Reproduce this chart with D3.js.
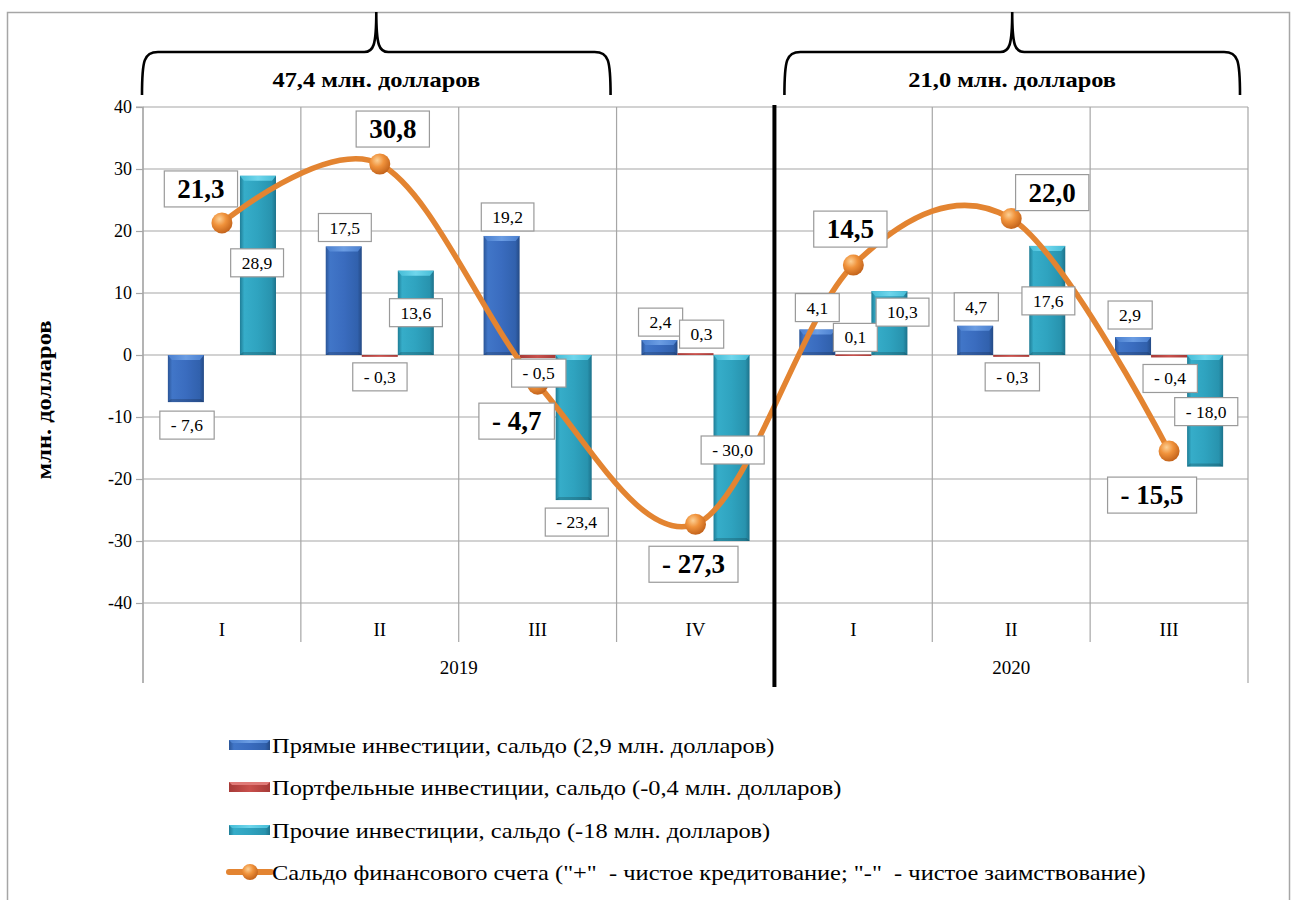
<!DOCTYPE html>
<html><head><meta charset="utf-8">
<script src="https://cdn.jsdelivr.net/npm/d3@7"></script>
<style>body{margin:0;background:#fff} svg{display:block}</style>
</head><body>
<svg id="c" width="1291" height="900"></svg>
<script>
// ---------- data ----------
const quarters = ["I","II","III","IV","I","II","III"];
const years = ["2019","2020"];
const yearSpan = [4,3];
const directInv = [-7.6,17.5,19.2,2.4,4.1,4.7,2.9];
const portfolioInv = [0,-0.3,-0.5,0.3,0.1,-0.3,-0.4];
const otherInv = [28.9,13.6,-23.4,-30.0,10.3,17.6,-18.0];
const balance = [21.3,30.8,-4.7,-27.3,14.5,22.0,-15.5];
const yTicks = [-40,-30,-20,-10,0,10,20,30,40];
const seriesNames = [
  "Прямые инвестиции, сальдо (2,9 млн. долларов)",
  "Портфельные инвестиции, сальдо (-0,4 млн. долларов)",
  "Прочие инвестиции, сальдо (-18 млн. долларов)",
  "Сальдо финансового счета (\"+\"  - чистое кредитование; \"-\"  - чистое заимствование)"
];
const braceLabels = ["47,4 млн. долларов","21,0 млн. долларов"];
const braceRanges = [[0,2],[4,6]];
const yTitle = "млн. долларов";

// ---------- layout (label placement offsets, px) ----------
const directOff = [[1,23],[1,-19],[6,-19],[1,-18],[0,-22],[1,-19],[-3,-22]];
const portOff = [null,[0,20],[1,15],[6,-19],[2,-17],[1,20],[1,21]];
const otherOff = [[-1,87],[0,42],[3,22],[1,-91],[13,21],[1,55],[1,-55]];
const balOff = [[-21,-34],[13,-35],[-21,37],[-2,40],[-3,-36],[41,-26],[-17,44]];
const braceInset = [[-1,6],[10,8]];
const FONT = "Liberation Serif, Times New Roman, serif";
const CYR = 1.11; // horizontal stretch of Cyrillic captions

const fmt = v => (v < 0 ? "- " : "") + Math.abs(v).toFixed(1).replace(".", ",");
function stretch(sel, k){
  sel.each(function(){
    const w = this.getComputedTextLength();
    d3.select(this).attr("textLength", w*k).attr("lengthAdjust","spacingAndGlyphs");
  });
}

const svg = d3.select("#c");
const L = 143, R = 1248, T = 107, B = 603;

// frame
svg.append("rect").attr("x",7.5).attr("y",12.5).attr("width",1282).attr("height",900)
  .attr("fill","none").attr("stroke","#a6a6a6").attr("stroke-width",1.5);

const x0 = d3.scaleBand().domain(d3.range(quarters.length)).range([L,R]).padding(0);
const x1 = d3.scaleBand().domain([0,1,2]).range([0,x0.bandwidth()]).paddingInner(0).paddingOuter(0.69);
const y = d3.scaleLinear().domain([-40,40]).range([B,T]);
const cx = i => x0(i) + x0.bandwidth()/2;

// defs
const defs = svg.append("defs");
function hGrad(id, stops){
  const g = defs.append("linearGradient").attr("id",id).attr("x1",0).attr("x2",1).attr("y1",0).attr("y2",0);
  stops.forEach(s=>g.append("stop").attr("offset",s[0]).attr("stop-color",s[1]));
}
hGrad("gBlue",[["0%","#2b5597"],["12%","#4176c8"],["50%","#3a6cbf"],["88%","#3161ad"],["100%","#244a85"]]);
hGrad("gTeal",[["0%","#1f7d96"],["12%","#36adc9"],["50%","#2fa3bf"],["88%","#2893ae"],["100%","#1d728b"]]);
hGrad("gRed",[["0%","#a63a37"],["50%","#c9504c"],["100%","#a63a37"]]);
hGrad("cBlue",[["0%","#4a7fcf"],["50%","#6b9de3"],["100%","#4a7fcf"]]);
hGrad("cTeal",[["0%","#45bcd6"],["50%","#6fd6ec"],["100%","#45bcd6"]]);
const rg = defs.append("radialGradient").attr("id","gBall").attr("cx","38%").attr("cy","32%").attr("r","70%");
rg.append("stop").attr("offset","0%").attr("stop-color","#fcd095");
rg.append("stop").attr("offset","45%").attr("stop-color","#f0923b");
rg.append("stop").attr("offset","100%").attr("stop-color","#c2621a");

// gridlines horizontal
svg.append("g").selectAll("line").data(yTicks).join("line")
  .attr("x1",L).attr("x2",R).attr("y1",d=>y(d)).attr("y2",d=>y(d))
  .attr("stroke","#a6a6a6").attr("stroke-width",1.2);
// vertical category boundaries
const bounds = d3.range(quarters.length+1).map(i => i < quarters.length ? x0(i) : x0(quarters.length-1)+x0.bandwidth());
const groupBounds = [0]; yearSpan.reduce((a,s)=>{groupBounds.push(a+s); return a+s;},0);
svg.append("g").selectAll("line").data(d3.range(bounds.length)).join("line")
  .attr("x1",i=>bounds[i]).attr("x2",i=>bounds[i]).attr("y1",T)
  .attr("y2",i=> groupBounds.includes(i) ? 683 : 642)
  .attr("stroke","#a6a6a6").attr("stroke-width",1.2);

// y axis
const yAxis = svg.append("g").attr("transform",`translate(${L},0)`)
  .call(d3.axisLeft(y).tickValues(yTicks).tickSize(7).tickPadding(4).tickFormat(d=>String(d)));
yAxis.attr("font-family",null).attr("font-size",null);
yAxis.select(".domain").attr("stroke","#a6a6a6").attr("stroke-width",1.2).attr("d",`M-7,${T}H0V683`);
yAxis.selectAll(".tick line").attr("stroke","#a6a6a6").attr("stroke-width",1.2);
yAxis.selectAll(".tick text").style("font-family",FONT).style("font-size","18px").attr("fill","#000");

// category labels
svg.append("g").selectAll("text").data(quarters).join("text")
  .attr("x",(d,i)=>cx(i)).attr("y",636).attr("text-anchor","middle")
  .style("font-family",FONT).style("font-size","19px").text(d=>d);
svg.append("g").selectAll("text").data(years).join("text")
  .attr("x",(d,k)=> (bounds[groupBounds[k]] + bounds[groupBounds[k+1]])/2)
  .attr("y",674).attr("text-anchor","middle").style("font-family",FONT).style("font-size","19px").text(d=>d);

// y title
const yt = svg.append("text").attr("transform","translate(51,400) rotate(-90)").attr("text-anchor","middle")
  .style("font-family",FONT).style("font-size","22px").style("font-weight","bold").text(yTitle);
stretch(yt, CYR);

// bars
const series = [
  {vals:directInv, fill:"url(#gBlue)", cap:"url(#cBlue)"},
  {vals:portfolioInv, fill:"url(#gRed)", cap:null},
  {vals:otherInv, fill:"url(#gTeal)", cap:"url(#cTeal)"}
];
const barG = svg.append("g");
series.forEach((s,si)=>{
  s.vals.forEach((v,i)=>{
    if (v === 0) return;
    const bx = x0(i)+x1(si), bw = x1.bandwidth();
    const top = y(Math.max(v,0)), h = Math.max(Math.abs(y(v)-y(0)), 1.6);
    barG.append("rect").attr("x",bx).attr("y",top).attr("width",bw).attr("height",h).attr("fill",s.fill);
    if (s.cap && h > 6) {
      barG.append("path").attr("d",`M${bx},${top}H${bx+bw}L${bx+bw-4},${top+5}H${bx+4}Z`).attr("fill",s.cap);
      barG.append("path").attr("d",`M${bx},${top+h}H${bx+bw}L${bx+bw-3},${top+h-3}H${bx+3}Z`).attr("fill","rgba(0,0,0,0.18)");
    }
  });
});

// balance line
const line = d3.line().x((d,i)=>cx(i)).y(d=>y(d)).curve(d3.curveCardinal.tension(0));
svg.append("path").datum(balance).attr("d",line).attr("fill","none")
  .attr("stroke","#e38431").attr("stroke-width",5.5).attr("stroke-linecap","round");
svg.append("g").selectAll("circle").data(balance).join("circle")
  .attr("cx",(d,i)=>cx(i)).attr("cy",d=>y(d)).attr("r",10.5).attr("fill","url(#gBall)");

// group separator (thick black)
svg.append("line").attr("x1",bounds[groupBounds[1]]).attr("x2",bounds[groupBounds[1]])
  .attr("y1",T-2).attr("y2",687).attr("stroke","#000").attr("stroke-width",4);

// labels
const labG = svg.append("g");
function label(xc, yc, txt, big){
  const g = labG.append("g");
  const t = g.append("text").attr("x",xc).attr("y",yc).attr("text-anchor","middle")
    .attr("dominant-baseline","central").style("font-family",FONT)
    .style("font-size", big?"27px":"17.5px").style("font-weight", big?"bold":"normal").text(txt);
  const bb = t.node().getBBox();
  const pw = big?13:11, ph = big?3:4;
  g.insert("rect","text").attr("x",bb.x-pw).attr("y",yc-(bb.height/2)-ph)
    .attr("width",bb.width+2*pw).attr("height",bb.height+2*ph)
    .attr("fill","#fff").attr("stroke","#9a9a9a").attr("stroke-width",1.2);
}
const offs = [directOff, portOff, otherOff];
series.forEach((s,si)=>{
  s.vals.forEach((v,i)=>{
    const o = offs[si][i]; if(!o) return;
    label(x0(i)+x1(si)+x1.bandwidth()/2+o[0], y(v)+o[1], fmt(v), false);
  });
});
balance.forEach((v,i)=> label(cx(i)+balOff[i][0], y(v)+balOff[i][1], fmt(v), true));

// braces
braceRanges.forEach((r,k)=>{
  const a = bounds[r[0]] + braceInset[k][0], b = bounds[r[1]+1] - braceInset[k][1];
  const m = (a+b)/2, yb = 95, yh = 52, yt2 = 12;
  svg.append("path").attr("d",
    `M${a},${yb} C${a},${yh+8} ${a+2},${yh} ${a+16},${yh} L${m-12},${yh} C${m-3},${yh} ${m},${yh-6} ${m},${yt2}` +
    ` C${m},${yh-6} ${m+3},${yh} ${m+12},${yh} L${b-16},${yh} C${b-2},${yh} ${b},${yh+8} ${b},${yb}`)
    .attr("fill","none").attr("stroke","#000").attr("stroke-width",2.6);
  const bt = svg.append("text").attr("x",m).attr("y",87).attr("text-anchor","middle")
    .style("font-family",FONT).style("font-size","22px").style("font-weight","bold").text(braceLabels[k]);
  stretch(bt, CYR);
});

// legend
const legY = [745,787,830,872];
const lg = svg.append("g");
const legFill = ["url(#gBlue)","url(#gRed)","url(#gTeal)"];
const legCap = ["url(#cBlue)","#e07a77","url(#cTeal)"];
seriesNames.forEach((n,k)=>{
  const yy = legY[k];
  if (k < 3) {
    lg.append("rect").attr("x",229).attr("y",yy-5).attr("width",41).attr("height",10).attr("fill",legFill[k]);
    lg.append("path").attr("d",`M229,${yy-5}H270L267,${yy-2}H232Z`).attr("fill",legCap[k]);
  } else {
    lg.append("line").attr("x1",229).attr("x2",271).attr("y1",yy).attr("y2",yy)
      .attr("stroke","#e38431").attr("stroke-width",6).attr("stroke-linecap","round");
    lg.append("circle").attr("cx",250).attr("cy",yy).attr("r",8).attr("fill","url(#gBall)");
  }
  const lt = lg.append("text").attr("x",272).attr("y",yy).attr("dominant-baseline","central")
    .style("font-family",FONT).style("font-size","22px").style("white-space","pre").text(n);
  stretch(lt, CYR);
});
</script>
</body></html>
